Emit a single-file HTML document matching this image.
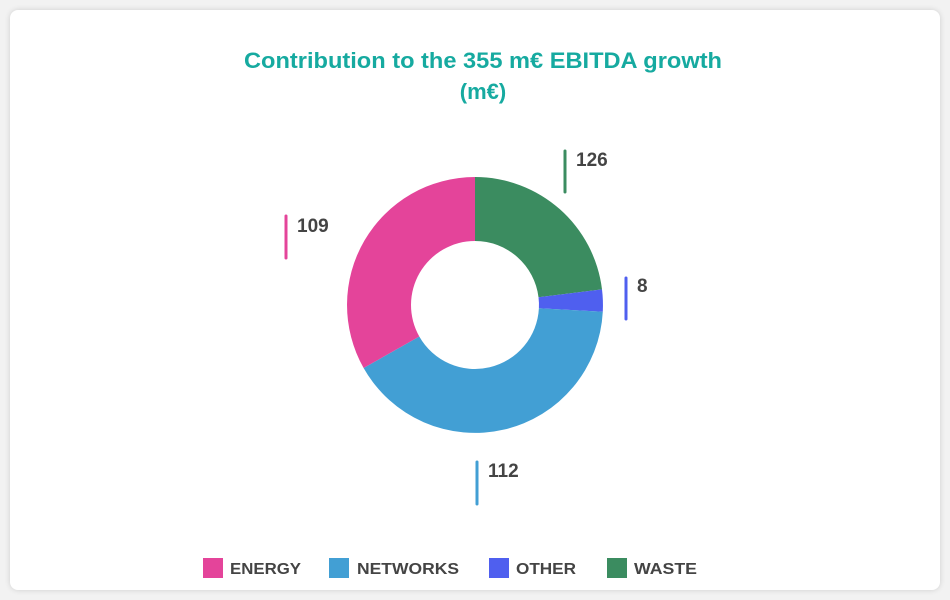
<!DOCTYPE html>
<html><head><meta charset="utf-8"><style>
html,body{margin:0;padding:0;width:950px;height:600px;background:#f2f2f2;overflow:hidden}
.card{position:absolute;left:10px;top:10px;width:930px;height:580px;background:#fff;border-radius:8px;box-shadow:0 0 6px rgba(0,0,0,0.15)}
svg{position:absolute;left:0;top:0}
text{font-family:"Liberation Sans",sans-serif;font-weight:bold}
</style></head><body>
<div class="card"></div>
<svg width="950" height="600" viewBox="0 0 950 600">
<text x="244" y="68" textLength="478" lengthAdjust="spacingAndGlyphs" font-size="22" fill="#16aaa0">Contribution to the 355 m€ EBITDA growth</text>
<text x="483" y="99" text-anchor="middle" font-size="22" fill="#16aaa0">(m€)</text>
<path d="M475,177 A128,128 0 0 1 602.0,289.4 L538.5,297.2 A64,64 0 0 0 475,241 Z" fill="#3b8c60"/>
<path d="M602.0,289.4 A128,128 0 0 1 602.8,311.7 L538.9,308.3 A64,64 0 0 0 538.5,297.2 Z" fill="#4f5fef"/>
<path d="M602.8,311.7 A128,128 0 0 1 363.6,368.0 L419.3,336.5 A64,64 0 0 0 538.9,308.3 Z" fill="#429fd4"/>
<path d="M363.6,368.0 A128,128 0 0 1 475,177 L475,241 A64,64 0 0 0 419.3,336.5 Z" fill="#e4449a"/>
<g stroke-width="3" stroke-linecap="round">
<line x1="565" y1="151" x2="565" y2="192" stroke="#3b8c60"/>
<line x1="626" y1="278" x2="626" y2="319" stroke="#4f5fef"/>
<line x1="477" y1="462" x2="477" y2="504" stroke="#429fd4"/>
<line x1="286" y1="216" x2="286" y2="258" stroke="#e4449a"/>
</g>
<g font-size="19" fill="#444">
<text x="576" y="166">126</text>
<text x="637" y="292">8</text>
<text x="488" y="477">112</text>
<text x="297" y="232">109</text>
</g>
<rect x="203" y="558" width="20" height="20" fill="#e4449a"/>
<rect x="329" y="558" width="20" height="20" fill="#429fd4"/>
<rect x="489" y="558" width="20" height="20" fill="#4f5fef"/>
<rect x="607" y="558" width="20" height="20" fill="#3b8c60"/>
<g font-size="16" fill="#444">
<text x="230" y="574" textLength="71" lengthAdjust="spacingAndGlyphs">ENERGY</text>
<text x="357" y="574" textLength="102" lengthAdjust="spacingAndGlyphs">NETWORKS</text>
<text x="516" y="574" textLength="60" lengthAdjust="spacingAndGlyphs">OTHER</text>
<text x="634" y="574" textLength="63" lengthAdjust="spacingAndGlyphs">WASTE</text>
</g>
</svg>
</body></html>
